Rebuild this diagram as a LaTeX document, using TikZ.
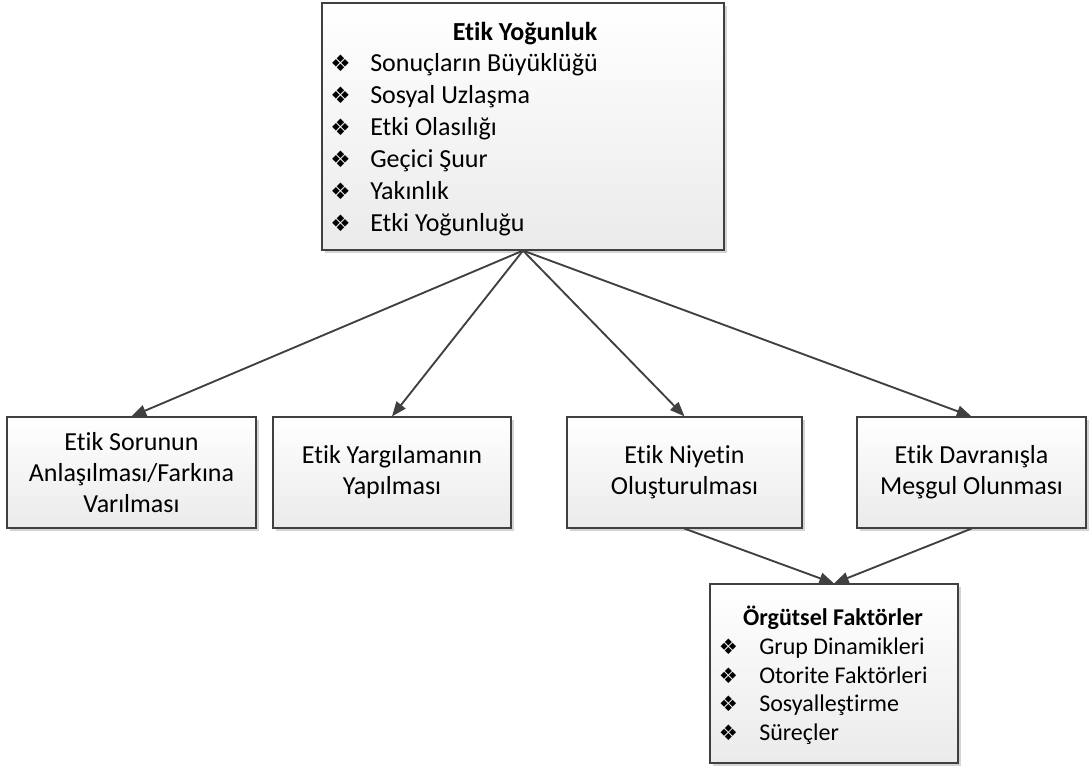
\documentclass[tikz,border=0pt]{standalone}
\usepackage{fontspec}
\setmainfont{Carlito}[Ligatures=NoCommon]
\newfontfamily\symfont{DejaVu Sans}
\usetikzlibrary{arrows.meta,shadows}
\definecolor{edgegray}{HTML}{404040}
\definecolor{shadowgray}{HTML}{D4D4D4}
\begin{document}
\begin{tikzpicture}[x=0.75pt,y=-0.75pt,
  box/.style={draw=edgegray, line width=0.9pt, top color=white, bottom color=black!8,
    inner sep=0pt, drop shadow={shadow xshift=2.25pt, shadow yshift=-2.25pt, fill=shadowgray, opacity=1}},
  stepbox/.style={box, align=center, font=\fontsize{19.5}{23.25}\selectfont},
  big/.style={font=\fontsize{19.5}{24}\selectfont, inner sep=0pt, anchor=base west},
  small/.style={font=\fontsize{18}{22}\selectfont, inner sep=0pt, anchor=base west},
  bigbullet/.style={font=\symfont\bfseries\fontsize{17}{17}\selectfont, inner sep=0pt, anchor=center},
  smallbullet/.style={font=\symfont\bfseries\fontsize{16}{16}\selectfont, inner sep=0pt, anchor=center},
  arr/.style={draw=edgegray, line width=1.4pt, -{Triangle[length=11pt,width=8.5pt]}, fill=edgegray}]
\useasboundingbox (0,0) rectangle (1091,771);

% ethical intensity box
\node[box, minimum width=301.5pt, minimum height=185.25pt] (top) at (523,126.5) {};
\node[font=\bfseries\fontsize{19.5}{24}\selectfont, inner sep=0pt, anchor=base] (toptitle) at (525,40.4) {Etik Yoğunluk};
\foreach \txt [count=\i] in {Sonuçların Büyüklüğü, Sosyal Uzlaşma, Etki Olasılığı, Geçici Şuur, Yakınlık, Etki Yoğunluğu}{
  \node[bigbullet] (tb\i) at (340.5,{63+32*(\i-1)}) {❖};
  \node[big] (ti\i) at (370,{71.4+32*(\i-1)}) {\txt};
}

% the four process stages
\node[stepbox, minimum width=186.75pt, minimum height=83.25pt] (b1) at (131.5,472.5) {Etik Sorunun\\Anlaşılması/Farkına\\Varılması};
\node[stepbox, minimum width=178.5pt, minimum height=83.25pt] (b2) at (392,472.5) {Etik Yargılamanın\\Yapılması};
\node[stepbox, minimum width=176.25pt, minimum height=83.25pt] (b3) at (684.5,472.5) {Etik Niyetin\\Oluşturulması};
\node[stepbox, minimum width=171.75pt, minimum height=83.25pt] (b4) at (971.5,472.5) {Etik Davranışla\\Meşgul Olunması};

% organisational factors box
\node[box, minimum width=186pt, minimum height=134.25pt] (bot) at (834,673.5) {};
\node[font=\bfseries\fontsize{18}{22}\selectfont, inner sep=0pt, anchor=base] (bottitle) at (833,625.7) {Örgütsel Faktörler};
\foreach \txt [count=\i] in {Grup Dinamikleri, Otorite Faktörleri, Sosyalleştirme, Süreçler}{
  \node[smallbullet] (bb\i) at (728.5,{647+28.5*(\i-1)}) {❖};
  \node[small] (bi\i) at (759,{654.7+28.5*(\i-1)}) {\txt};
}

% connectors
\foreach \t in {b1,b2,b3,b4}{
  \draw[arr] (top.south) -- (\t.north);
}
\draw[arr] (b3.south) -- (bot.north);
\draw[arr] (b4.south) -- (bot.north);
\end{tikzpicture}
\end{document}
